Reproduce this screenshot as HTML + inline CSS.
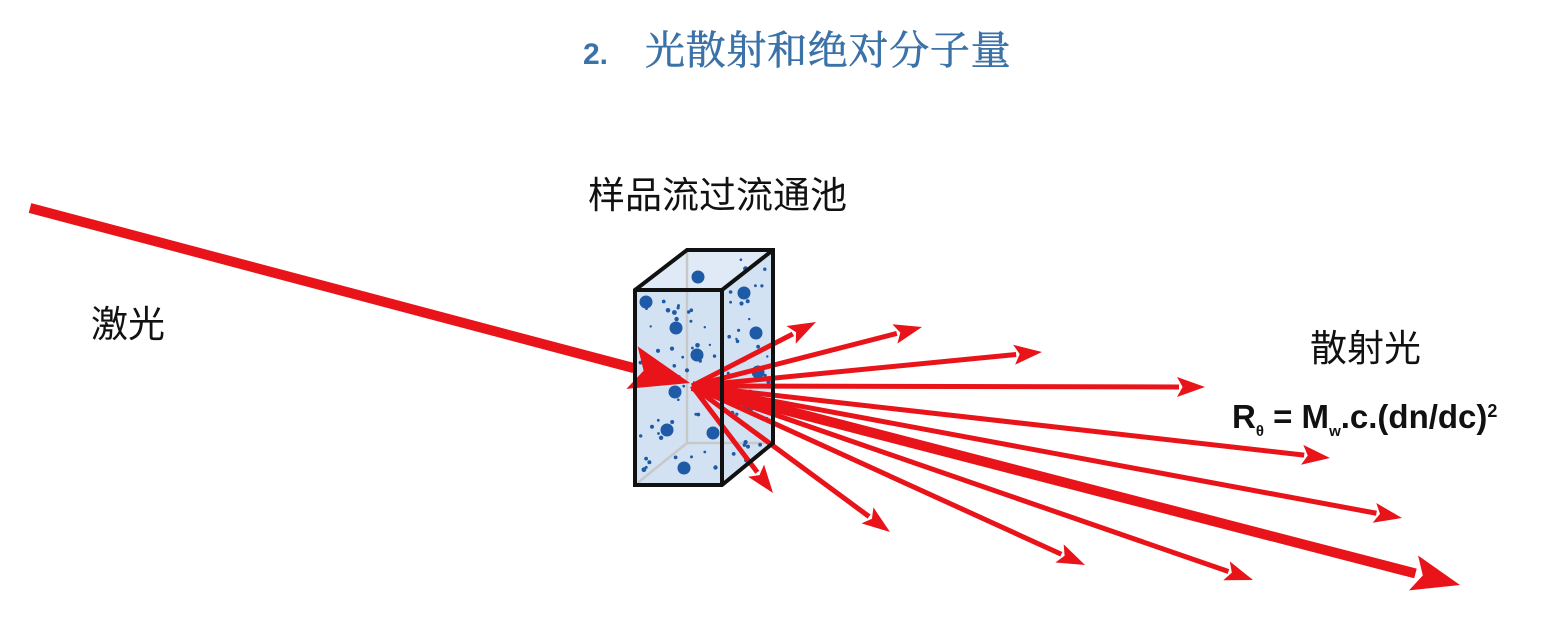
<!DOCTYPE html>
<html><head><meta charset="utf-8"><style>
body{margin:0;background:#fff;}
svg{display:block}
</style></head><body>
<svg id="s" width="1550" height="628" viewBox="0 0 1550 628" xmlns="http://www.w3.org/2000/svg">
<text x="583" y="64" font-family="Liberation Sans, sans-serif" font-weight="bold" font-size="30" fill="#3b72a8">2.</text>
<text x="645" y="64" font-family="Liberation Serif, 'Noto Serif CJK SC', serif" font-size="40" letter-spacing="0.7" fill="#3b72a8" stroke="#3b72a8" stroke-width="0.6">光散射和绝对分子量</text>
<text x="588" y="208" font-family="Liberation Sans, 'Noto Sans CJK SC', sans-serif" font-size="37" fill="#111">样品流过流通池</text>
<text x="91" y="337" font-family="Liberation Sans, 'Noto Sans CJK SC', sans-serif" font-size="37" fill="#111">激光</text>
<text x="1310" y="361" font-family="Liberation Sans, 'Noto Sans CJK SC', sans-serif" font-size="37" fill="#111">散射光</text>
<text x="1232" y="428" font-family="Liberation Sans, sans-serif" font-weight="bold" font-size="33" fill="#111">R<tspan font-size="15" dy="8">θ</tspan><tspan dy="-8"> = M</tspan><tspan font-size="15" dy="8">w</tspan><tspan dy="-8">.c.(dn/dc)</tspan><tspan font-size="18" dy="-11">2</tspan></text>
<!-- cube -->
<polygon points="635,290 687,250 773,250 773,443 722,485 635,485" fill="#d2e2f3"/>
<polygon points="635,290 687,250 773,250 722,290" fill="#dfeaf6"/>
<polyline points="687,250 687,443 635,485" fill="none" stroke="#c8c8c8" stroke-width="2.5"/>
<line x1="687" y1="443" x2="773" y2="443" stroke="#c8c8c8" stroke-width="2.5"/>
<g id="dots" fill="#1f5aa6"></g>
<g id="arrows" fill="#e8141a" stroke="#e8141a"></g>
<g fill="none" stroke="#111" stroke-width="4" stroke-linejoin="miter">
<polygon points="635,290 687,250 773,250 773,443 722,485 635,485"/>
<polyline points="635,290 722,290 773,250"/>
<line x1="722" y1="290" x2="722" y2="485"/>
</g>
</svg>
<script>
var NS="http://www.w3.org/2000/svg";
var d=document.getElementById("dots");
var big=[[646,302],[676,328],[697,355],[675,392],[667,430],[684,468],[713,385],[698,277],[744,293],[756,333],[758,372],[749,405],[713,433]];
big.forEach(function(p){var c=document.createElementNS(NS,"circle");c.setAttribute("cx",p[0]);c.setAttribute("cy",p[1]);c.setAttribute("r",6.5);d.appendChild(c);});
var seed=7;function r(){seed=(seed*9301+49297)%233280;return seed/233280;}
for(var i=0;i<90;i++){var c=document.createElementNS(NS,"circle");var x,y;
 if(i<55){x=640+r()*78;y=296+r()*185;}else{x=727+r()*42;y=258+r()*215-(x-727)*0.3;}
 c.setAttribute("cx",x.toFixed(1));c.setAttribute("cy",y.toFixed(1));c.setAttribute("r",(1.2+r()*1.2).toFixed(1));d.appendChild(c);}
var a=document.getElementById("arrows");
function arrow(x1,y1,x2,y2,w,hl,hw){var dx=x2-x1,dy=y2-y1,L=Math.hypot(dx,dy),ux=dx/L,uy=dy/L,nx=-uy,ny=ux;
 var bx=x2-ux*hl,by=y2-uy*hl;
 var l=document.createElementNS(NS,"line");l.setAttribute("x1",x1);l.setAttribute("y1",y1);l.setAttribute("x2",bx+ux*2);l.setAttribute("y2",by+uy*2);l.setAttribute("stroke-width",w);a.appendChild(l);
 var p=document.createElementNS(NS,"polygon");p.setAttribute("stroke","none");
 p.setAttribute("points",[x2,y2,bx+nx*hw,by+ny*hw,bx+ux*hl*0.2,by+uy*hl*0.2,bx-nx*hw,by-ny*hw].join(","));a.appendChild(p);}
arrow(30,208,690,383,10,60,22);
var ox=692,oy=386;
var tips=[[816,322],[922,327],[1042,352],[1205,387],[1330,458],[1402,518],[1253,580],[1085,565],[890,532],[773,493]];
tips.forEach(function(t){arrow(ox,oy,t[0],t[1],5,28,10);});
arrow(ox,oy,1460,585,10,48,18);
</script>
</body></html>
